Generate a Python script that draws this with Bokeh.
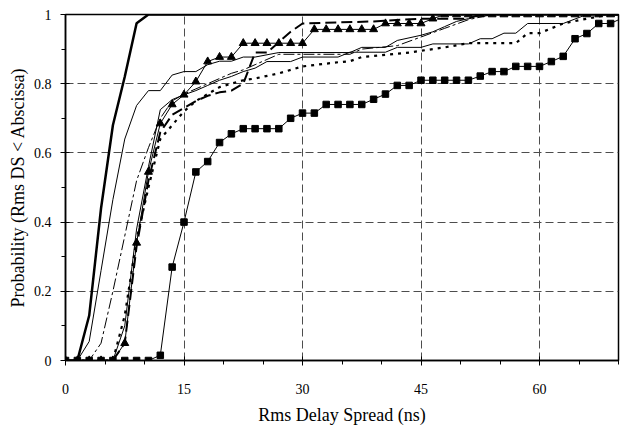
from bokeh.plotting import figure
from bokeh.models import Range1d, FixedTicker
from bokeh.embed import file_html
from bokeh.resources import INLINE

# ---- axis ticks / labels ----
X_TICKS = [0, 15, 30, 45, 60]
X_LABELS = ["0", "15", "30", "45", "60"]
X_MINOR = [5, 10, 20, 25, 35, 40, 50, 55, 65, 70]
Y_TICKS = [0, 0.2, 0.4, 0.6, 0.8, 1]
Y_LABELS = ["0", "0.2", "0.4", "0.6", "0.8", "1"]
Y_MINOR = [0.1, 0.3, 0.5, 0.7, 0.9]

# ---- marker series (sampled every 1.5 ns) ----
x_mark = [0, 1.5, 3, 4.5, 6, 7.5, 9, 10.5, 12, 13.5, 15, 16.5, 18, 19.5, 21, 22.5,
          24, 25.5, 27, 28.5, 30, 31.5, 33, 34.5, 36, 37.5, 39, 40.5, 42, 43.5, 45,
          46.5, 48, 49.5, 51, 52.5, 54, 55.5, 57, 58.5, 60, 61.5, 63, 64.5, 66, 67.5,
          69, 70.5]
squares = [0, 0, 0, 0, 0, 0, 0, 0, 0.015, 0.27, 0.40, 0.545, 0.575, 0.63, 0.655, 0.67,
           0.67, 0.67, 0.67, 0.70, 0.715, 0.715, 0.74, 0.74, 0.74, 0.74, 0.755, 0.77,
           0.795, 0.795, 0.81, 0.81, 0.81, 0.81, 0.81, 0.822, 0.835, 0.835, 0.85, 0.85,
           0.85, 0.864, 0.879, 0.93, 0.945, 0.974, 0.974, 0.99]
triangles = [0, 0, 0, 0, 0, 0.05, 0.34, 0.545, 0.685, 0.74, 0.768, 0.806, 0.864, 0.877,
             0.877, 0.917, 0.917, 0.917, 0.917, 0.917, 0.917, 0.957, 0.957, 0.957, 0.957,
             0.957, 0.957, 0.974, 0.974, 0.974, 0.974, 0.988, 1, 1, 1, 1, 1, 1, 1, 1,
             1, 1, 1, 1, 1, 1, 1, 1]

# ---- line-only series ----
thick_x = [0, 1.5, 3, 4.5, 6, 7.5, 9, 10.5, 70.5]
thick_y = [0, 0, 0.13, 0.44, 0.68, 0.82, 0.975, 1, 1]

thinA_x = [0, 1.5, 3, 4.5, 6, 7.5, 9, 10.5, 12, 13.5, 15, 16.5, 18, 19.5, 21, 22.5, 24,
           27, 36, 37.5, 40.5, 42, 45, 46.5, 48, 49.5, 51, 52.5, 70.5]
thinA_y = [0, 0, 0.055, 0.26, 0.465, 0.64, 0.737, 0.78, 0.78, 0.825, 0.835, 0.835, 0.855,
           0.865, 0.865, 0.877, 0.877, 0.89, 0.89, 0.905, 0.905, 0.925, 0.94, 0.95, 0.965,
           0.98, 0.988, 1, 1]

thinB_x = [0, 6, 7.5, 9, 10.5, 12, 13.5, 15, 16.5, 18, 19.5, 21, 22.5, 24, 25.5, 28.5,
           30, 34.5, 36, 40.5, 42, 45, 46.5, 51, 52.5, 54, 55.5, 57, 58.5, 63, 66, 70.5]
thinB_y = [0, 0, 0.1, 0.38, 0.56, 0.725, 0.754, 0.768, 0.78, 0.795, 0.81, 0.821, 0.835,
           0.845, 0.864, 0.864, 0.877, 0.877, 0.891, 0.891, 0.905, 0.905, 0.915, 0.915,
           0.93, 0.93, 0.946, 0.946, 0.974, 0.974, 1, 1]

dashdot_x = [0, 3, 4.5, 6, 7.5, 9, 10.5, 12, 13.5, 15, 16.5, 18, 19.5, 21, 22.5, 24,
             25.5, 27, 36, 37.5, 42, 45, 48, 51, 54, 70.5]
dashdot_y = [0, 0, 0.05, 0.2, 0.36, 0.52, 0.615, 0.70, 0.75, 0.77, 0.785, 0.80, 0.815,
             0.83, 0.84, 0.855, 0.87, 0.885, 0.885, 0.9, 0.91, 0.935, 0.96, 0.985, 1, 1]

dotted_x = [0, 6, 7.5, 9, 10.5, 12, 13.5, 15, 16.5, 18, 19.5, 21, 22.5, 24, 27, 28.5,
            30, 34.5, 36, 37.5, 43.5, 46.5, 48, 51, 57, 58.5, 60, 63, 66, 69, 70.5]
dotted_y = [0, 0, 0.13, 0.35, 0.5, 0.64, 0.68, 0.72, 0.75, 0.77, 0.79, 0.80, 0.81, 0.815,
            0.83, 0.84, 0.85, 0.862, 0.865, 0.877, 0.89, 0.9, 0.905, 0.917, 0.917, 0.946,
            0.946, 0.974, 0.988, 1, 1]

dashed_x = [0, 6, 7.5, 9, 10.5, 12, 13.5, 15, 16.5, 18, 19.5, 21, 22.5, 24, 25.5, 27,
            28.5, 30, 39, 45, 51, 52.5, 70.5]
dashed_y = [0, 0, 0.05, 0.33, 0.52, 0.66, 0.71, 0.73, 0.75, 0.765, 0.775, 0.78, 0.80,
            0.89, 0.89, 0.92, 0.95, 0.974, 0.98, 0.988, 0.988, 1, 1]

FONT = "Liberation Serif"

p = figure(width=620, height=430, output_backend="svg", toolbar_location=None,
           x_range=Range1d(0, 70), y_range=Range1d(0, 1),
           min_border_left=65, min_border_top=14, min_border_right=2,
           min_border_bottom=70)
p.outline_line_color = "black"
p.outline_line_width = 1.5
p.background_fill_color = "white"
p.border_fill_color = "white"

p.xaxis.ticker = FixedTicker(ticks=X_TICKS, minor_ticks=X_MINOR)
p.yaxis.ticker = FixedTicker(ticks=Y_TICKS, minor_ticks=Y_MINOR)
p.xaxis.major_label_overrides = dict(zip(X_TICKS, X_LABELS))
p.yaxis.major_label_overrides = dict(zip(Y_TICKS, Y_LABELS))

for ax in (p.xaxis, p.yaxis):
    ax.axis_line_color = "black"
    ax.axis_line_width = 1.5
    ax.major_tick_line_color = "black"
    ax.minor_tick_line_color = "black"
    ax.major_tick_in = 4
    ax.major_tick_out = 5
    ax.minor_tick_in = 0
    ax.minor_tick_out = 4
    ax.major_label_text_font = FONT
    ax.major_label_text_font_size = "14px"
    ax.major_label_text_color = "black"
    ax.axis_label_text_font = FONT
    ax.axis_label_text_font_size = "18px"
    ax.axis_label_text_font_style = "normal"
    ax.axis_label_text_color = "black"

p.xaxis.axis_label = "Rms Delay Spread (ns)"
p.yaxis.axis_label = "Probability (Rms DS < Abscissa)"
p.xaxis.major_label_standoff = 18
p.xaxis.axis_label_standoff = 8
p.yaxis.major_label_standoff = 9
p.yaxis.axis_label_standoff = 3

for g in (p.xgrid, p.ygrid):
    g.grid_line_color = "#4d4d4d"
    g.grid_line_dash = "8 4"
    g.grid_line_width = 1

p.line(thick_x, thick_y, line_color="black", line_width=2.5)
p.line(thinA_x, thinA_y, line_color="black", line_width=1)
p.line(thinB_x, thinB_y, line_color="black", line_width=1)
p.line(dashdot_x, dashdot_y, line_color="black", line_width=1, line_dash="11 3 3 3")
p.line(dotted_x, dotted_y, line_color="black", line_width=2.2, line_dash="3 5")
p.line(dashed_x, dashed_y, line_color="black", line_width=2, line_dash="11 5")
p.line(x_mark, triangles, line_color="black", line_width=1)
p.scatter(x_mark, triangles, marker="triangle", size=8, fill_color="black",
          line_color="black")
p.line(x_mark, squares, line_color="black", line_width=1)
p.scatter(x_mark, squares, marker="square", size=6.5, fill_color="black",
          line_color="black")

open("out.html", "w").write(file_html(p, INLINE))
